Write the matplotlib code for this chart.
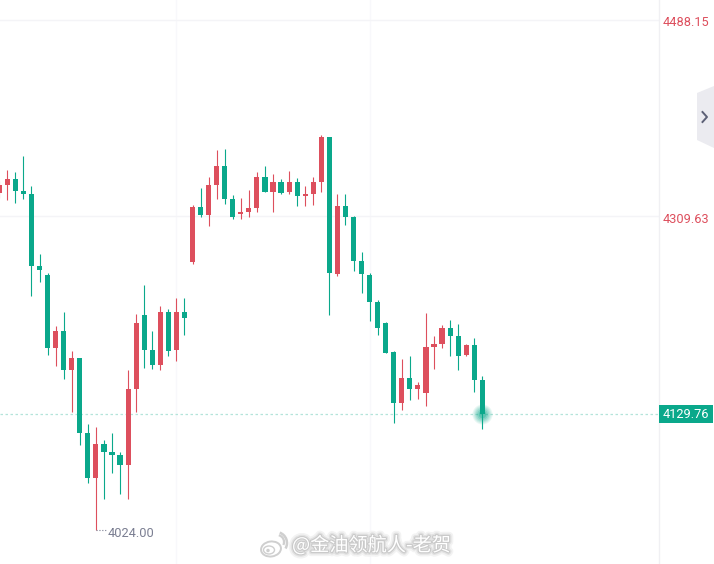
import matplotlib
matplotlib.use("Agg")
import matplotlib.pyplot as plt
import matplotlib.patheffects as pe
from matplotlib.patches import Rectangle, Polygon, Ellipse, Arc
from matplotlib.transforms import ScaledTranslation

# K线数据
opens = [4331.0, 4337.4, 4343.7, 4332.8, 4329.2, 4263.8, 4256.5, 4189.3, 4205.6, 4169.3,
         4180.2, 4112.1, 4071.2, 4102.1, 4094.8, 4092.1, 4083.0, 4152.1, 4219.3, 4187.5,
         4173.9, 4222.0, 4187.5, 4222.0, 4268.3, 4317.4, 4311.0, 4337.4, 4355.5, 4325.5,
         4311.9, 4313.7, 4316.5, 4345.5, 4331.9, 4341.0, 4331.9, 4341.0, 4327.4, 4330.1,
         4340.1, 4381.0, 4257.4, 4318.3, 4308.3, 4269.2, 4256.5, 4231.1, 4212.9, 4185.7,
         4140.2, 4162.9, 4152.1, 4149.3, 4191.1, 4193.8, 4208.3, 4200.2, 4183.8, 4192.9,
         4161.1]
highs = [4341.9, 4351.9, 4349.2, 4364.6, 4336.5, 4274.7, 4258.3, 4209.3, 4222.0, 4186.6,
         4181.1, 4121.1, 4118.4, 4106.6, 4112.9, 4095.7, 4170.2, 4220.2, 4247.4, 4205.6,
         4228.3, 4225.6, 4235.6, 4235.6, 4320.1, 4335.5, 4345.5, 4369.2, 4370.1, 4328.3,
         4326.4, 4333.7, 4349.2, 4355.5, 4347.4, 4343.7, 4350.1, 4344.6, 4336.5, 4345.5,
         4382.8, 4381.0, 4329.2, 4330.1, 4310.1, 4277.4, 4258.3, 4233.8, 4213.8, 4186.6,
         4179.3, 4182.9, 4158.4, 4221.1, 4200.2, 4210.2, 4215.6, 4211.1, 4193.8, 4198.4,
         4163.9]
lows = [4326.4, 4324.6, 4321.9, 4325.5, 4237.4, 4250.1, 4183.8, 4173.0, 4162.0, 4131.2,
        4101.2, 4067.5, 4024.0, 4052.1, 4076.6, 4057.5, 4053.0, 4131.2, 4172.0, 4171.1,
        4170.2, 4182.9, 4177.5, 4202.0, 4266.5, 4308.3, 4301.0, 4325.5, 4321.0, 4306.5,
        4306.5, 4308.3, 4313.7, 4331.9, 4313.7, 4330.1, 4329.2, 4318.3, 4318.3, 4320.1,
        4331.9, 4219.3, 4254.7, 4301.9, 4260.1, 4240.1, 4214.7, 4202.0, 4184.8, 4122.0,
        4133.0, 4142.1, 4143.0, 4136.6, 4171.1, 4189.3, 4182.9, 4170.2, 4182.9, 4150.2,
        4115.7]
closes = [4337.4, 4343.7, 4332.8, 4329.2, 4263.8, 4261.0, 4189.3, 4205.6, 4169.3, 4180.2,
          4112.1, 4071.2, 4102.1, 4094.8, 4092.1, 4083.0, 4152.1, 4212.0, 4187.5, 4173.9,
          4222.0, 4186.6, 4222.0, 4217.4, 4317.4, 4311.0, 4337.4, 4355.5, 4325.5, 4309.2,
          4313.7, 4316.5, 4345.5, 4331.9, 4341.0, 4331.0, 4341.0, 4327.4, 4330.1, 4340.1,
          4381.0, 4258.3, 4318.3, 4308.3, 4269.2, 4257.4, 4231.1, 4208.3, 4184.8, 4140.2,
          4162.9, 4152.1, 4155.7, 4191.1, 4193.8, 4208.3, 4200.2, 4182.9, 4192.9, 4161.1,
          4129.76]

price_ticks = [4488.15, 4309.63]
last_price = 4129.76
low_price = 4024.00
low_index = 12
watermark = "@金油领航人-老贺"

UP = "#dd4f5d"
DOWN = "#0aa88b"
GRID = "#f4f4f7"

plt.rcParams["font.family"] = ["Roboto", "Noto Sans CJK SC", "DejaVu Sans"]

fig = plt.figure(figsize=(7.14, 5.64), dpi=100, facecolor="white")
ax = fig.add_axes([0, 0, 659 / 714, 1])
ax.set_xlim(0.087, 81.95)
ax.set_ylim(3993.5, 4505.9)

# 网格线和坐标轴
for s in ["top", "bottom", "left"]:
    ax.spines[s].set_visible(False)
ax.spines["right"].set_color("#f0f0f3")
ax.spines["right"].set_linewidth(1)
ax.set_xticks([22, 46])
ax.set_xticklabels([])
ax.tick_params(axis="x", length=0)
ax.grid(axis="x", color="#f8f8fb", linewidth=1)
ax.yaxis.tick_right()
ax.set_yticks(price_ticks)
ax.set_yticklabels([f"{p:.2f}" for p in price_ticks])
ax.tick_params(axis="y", length=0, pad=2.8, labelsize=9.2, labelcolor=UP)
for label in ax.get_yticklabels():
    label.set_transform(label.get_transform() + ScaledTranslation(0, -0.015, fig.dpi_scale_trans))
ax.grid(axis="y", color=GRID, linewidth=1)
ax.set_axisbelow(True)

# 蜡烛图
index = list(range(len(opens)))
colors = [UP if c >= o else DOWN for o, c in zip(opens, closes)]
ax.vlines(index, lows, highs, colors=colors, linewidth=0.8, zorder=3)
bottoms = [min(o, c) for o, c in zip(opens, closes)]
sizes = [abs(c - o) for o, c in zip(opens, closes)]
ax.bar(index, sizes, bottom=bottoms, width=0.64, color=colors, linewidth=0, zorder=4)

# 现价线和末端光晕
ax.axhline(last_price, color="#b4e4da", linewidth=0.9, dashes=(2, 2), zorder=2)
for s, a in [(210, 0.08), (170, 0.1), (130, 0.12), (95, 0.15), (60, 0.2), (30, 0.3)]:
    ax.scatter(index[-1], last_price, s=s, color=DOWN, alpha=a, linewidths=0, zorder=5)

# 最低价标注
ax.annotate(f"{low_price:.2f}", xy=(low_index, low_price), xytext=(8.3, -2.2),
            textcoords="offset points", color="#7b7f92", fontsize=9.2, va="center", zorder=6)
ax.plot([low_index, low_index + 1.25], [low_price, low_price], color="#7b7f92",
        linewidth=0.8, dashes=(1, 1.6), zorder=3)

# 右侧覆盖层：价格标签、折叠按钮、水印
top = fig.add_axes([0, 0, 1, 1], facecolor="none")
top.set_xlim(0, 714)
top.set_ylim(564, 0)
top.axis("off")

top.add_patch(Rectangle((659, 405), 54, 18, facecolor=DOWN, edgecolor="none"))
top.text(685.5, 414, f"{last_price:.2f}", color="white", fontsize=9.2, ha="center", va="center")

top.add_patch(Polygon([(697, 93), (714, 86), (714, 148), (697, 140)], facecolor="#ebebf0",
                      edgecolor="none"))
top.plot([702.5, 707, 702.5], [112, 117, 122], color="#5c6076", linewidth=1.4)

halo = [pe.withStroke(linewidth=6, foreground="#f3f3f3"),
        pe.withStroke(linewidth=3.5, foreground="#e2e2e2"),
        pe.withStroke(linewidth=1.6, foreground="#cacaca")]
top.text(292, 545.5, watermark, color="white", fontsize=13.8, va="center", ha="left",
         family=["Noto Sans CJK SC", "DejaVu Sans"], path_effects=halo)

# 微博图标
logo = "#cfcfcf"
top.add_patch(Ellipse((271, 549), 20, 15, angle=-8, facecolor="white", edgecolor=logo, linewidth=1.4))
top.add_patch(Ellipse((269, 550), 11, 8, facecolor="white", edgecolor=logo, linewidth=1))
top.add_patch(Ellipse((268, 550.5), 3.5, 3.5, facecolor=logo, edgecolor="none"))
top.add_patch(Arc((277, 542), 14, 14, theta1=-75, theta2=25, edgecolor=logo, linewidth=1.6))
top.add_patch(Arc((276, 543), 22, 22, theta1=-70, theta2=30, edgecolor=logo, linewidth=1.8))

fig.savefig("out.png", dpi=100)
